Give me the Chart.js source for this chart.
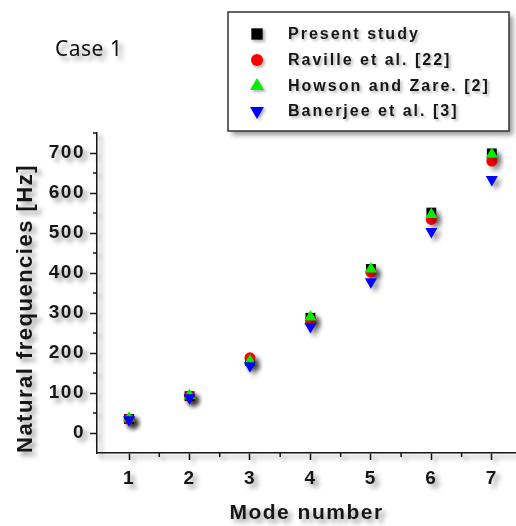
<!DOCTYPE html>
<html>
<head>
<meta charset="utf-8">
<script src="https://cdn.jsdelivr.net/npm/chart.js@4.4.1/dist/chart.umd.min.js"></script>
<style>
  html, body { margin: 0; padding: 0; background: #fff; }
  #wrap { position: relative; width: 516px; height: 526px; }
</style>
</head>
<body>
<div id="wrap"><canvas id="chart"></canvas></div>
<script>
// values
const modes = [1, 2, 3, 4, 5, 6, 7];
const presentStudy = [35, 92, 180, 288, 410, 551, 699];
const raville = [35, 92, 188, 283, 402, 534, 680];
const howson = [37, 94, 180, 290, 410, 546, 697];
const banerjee = [33, 88, 168, 266, 378, 504, 634];

const seriesLabels = ["Present study", "Raville et al. [22]", "Howson and Zare. [2]", "Banerjee et al. [3]"];
const xTicks = [1, 2, 3, 4, 5, 6, 7];
const xMinorTicks = [1.5, 2.5, 3.5, 4.5, 5.5, 6.5];
const yTicks = [0, 100, 200, 300, 400, 500, 600, 700];
const yMinorTicks = [50, 150, 250, 350, 450, 550, 650, 750];

const FONT = "'Liberation Sans', Arial, sans-serif";
const INK = "#161616";

const toPoints = vals => modes.map((m, i) => ({x: m, y: vals[i]}));

const markers = [
    {style: "rect", color: "#000000", radius: 7, rotation: 0, legendRadius: 8},
    {style: "circle", color: "#ff0000", radius: 5.5, rotation: 0, legendRadius: 6},
    {style: "triangle", color: "#00ee00", radius: 7, rotation: 0, legendRadius: 8},
    {style: "triangle", color: "#0000ff", radius: 7, rotation: 180, legendRadius: 8},
];

const allSeries = [presentStudy, raville, howson, banerjee];

const datasets = allSeries.map((vals, i) => ({
    label: seriesLabels[i],
    data: toPoints(vals),
    pointStyle: markers[i].style,
    pointRotation: markers[i].rotation,
    pointRadius: markers[i].radius,
    pointBackgroundColor: markers[i].color,
    pointBorderColor: markers[i].color,
    pointBorderWidth: 0,
    showLine: false,
    order: allSeries.length - i, // last series drawn on top
}));

// shadows, minor ticks, "Case 1" label and boxed legend
const decorPlugin = {
    id: "decor",
    beforeDraw(chart) {
        const ctx = chart.ctx;
        ctx.save();
        ctx.shadowColor = "rgba(0,0,0,0.4)";
        ctx.shadowBlur = 5;
        ctx.shadowOffsetX = 4;
        ctx.shadowOffsetY = 4;
        ctx.letterSpacing = "1.5px";
    },
    afterDraw(chart) {
        const ctx = chart.ctx;
        const xs = chart.scales.x, ys = chart.scales.y;
        const area = chart.chartArea;

        ctx.strokeStyle = INK;
        ctx.lineWidth = 1.5;
        ctx.beginPath();
        xMinorTicks.forEach(v => {
            const px = xs.getPixelForValue(v);
            ctx.moveTo(px, area.bottom);
            ctx.lineTo(px, area.bottom + 4);
        });
        yMinorTicks.forEach(v => {
            const py = ys.getPixelForValue(v);
            ctx.moveTo(area.left, py);
            ctx.lineTo(area.left - 4, py);
        });
        ctx.stroke();

        // Case 1
        ctx.fillStyle = "#111";
        ctx.letterSpacing = "0.5px";
        ctx.font = "21px 'Noto Sans', sans-serif";
        ctx.textAlign = "left";
        ctx.textBaseline = "middle";
        ctx.fillText("Case 1", 55, 50);

        // legend box
        const bx = 228, by = 12, bw = 281, bh = 119;
        ctx.fillStyle = "#fff";
        ctx.fillRect(bx, by, bw, bh);
        ctx.shadowColor = "rgba(0,0,0,0)";
        ctx.strokeStyle = "#333";
        ctx.lineWidth = 1.5;
        ctx.strokeRect(bx, by, bw, bh);

        ctx.shadowColor = "rgba(0,0,0,0.3)";
        ctx.shadowBlur = 3;
        ctx.shadowOffsetX = 2;
        ctx.shadowOffsetY = 2;
        const rowY = [34, 60, 86, 111];
        chart.data.datasets.forEach((ds, i) => {
            ctx.fillStyle = ds.pointBackgroundColor;
            ctx.strokeStyle = ds.pointBorderColor;
            Chart.helpers.drawPoint(ctx, {
                pointStyle: ds.pointStyle,
                rotation: ds.pointRotation,
                radius: markers[i].legendRadius,
                borderWidth: 0
            }, 257, rowY[i]);
            ctx.fillStyle = INK;
            ctx.letterSpacing = "2px";
            ctx.font = "bold 16px " + FONT;
            ctx.textAlign = "left";
            ctx.textBaseline = "middle";
            ctx.fillText(ds.label, 288, rowY[i] + 1);
        });
        ctx.restore();
    }
};

new Chart(document.getElementById("chart"), {
    type: "scatter",
    data: {datasets: datasets},
    options: {
        responsive: true,
        maintainAspectRatio: false,
        animation: false,
        layout: {autoPadding: false, padding: {top: 133, left: 0, right: 0, bottom: 0}},
        plugins: {
            legend: {display: false},
            tooltip: {enabled: false}
        },
        scales: {
            x: {
                type: "linear",
                min: 0.47,
                max: 7.4,
                afterBuildTicks: s => { s.ticks = xTicks.map(v => ({value: v})); },
                afterFit: s => { s.height = 73; },
                grid: {drawOnChartArea: false, tickLength: 7, tickColor: INK, tickWidth: 1.5},
                border: {color: INK, width: 1.5},
                ticks: {
                    font: {family: FONT, size: 19, weight: "bold"},
                    color: INK, padding: 7, maxRotation: 0, autoSkip: false
                },
                title: {
                    display: true, text: "Mode number", color: INK,
                    font: {family: FONT, size: 21, weight: "bold"},
                    padding: {top: 0, bottom: 0}
                }
            },
            y: {
                type: "linear",
                min: -50,
                max: 750,
                afterBuildTicks: s => { s.ticks = yTicks.map(v => ({value: v})); },
                afterFit: s => { s.width = 97; },
                grid: {drawOnChartArea: false, tickLength: 7, tickColor: INK, tickWidth: 1.5},
                border: {color: INK, width: 1.5},
                ticks: {
                    font: {family: FONT, size: 19, weight: "bold"},
                    color: INK, padding: 5, autoSkip: false
                },
                title: {
                    display: true, text: "Natural frequencies [Hz]", color: INK, align: "start",
                    font: {family: FONT, size: 22, weight: "bold"},
                    padding: {top: 13, bottom: 0}
                }
            }
        }
    },
    plugins: [decorPlugin]
});
</script>
</body>
</html>
